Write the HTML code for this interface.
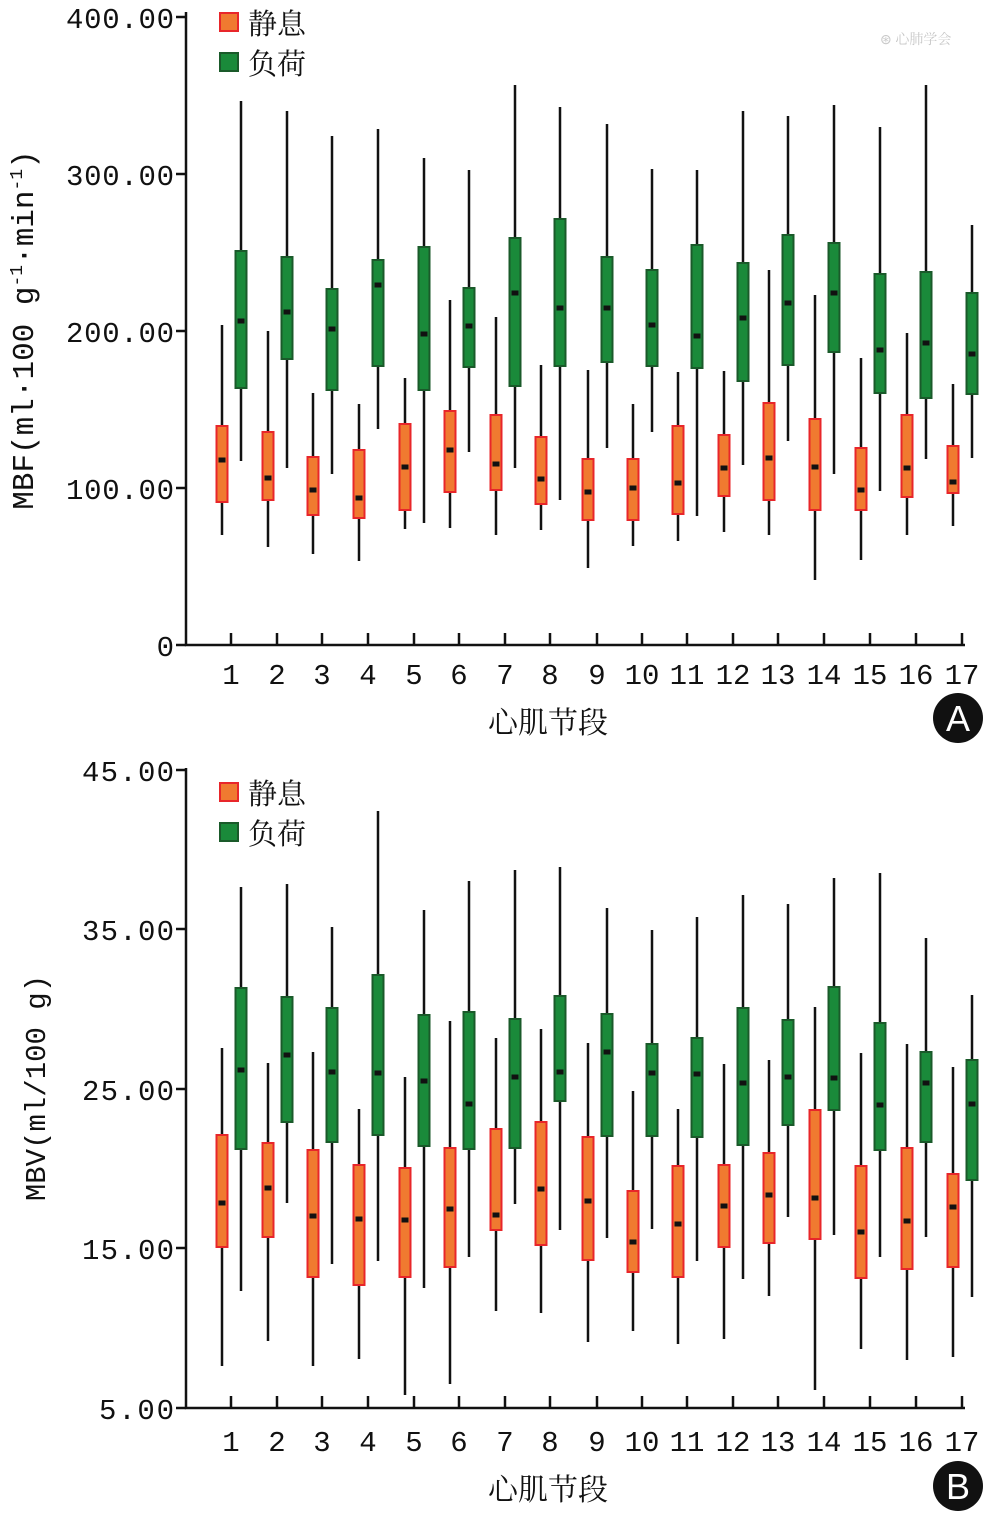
<!DOCTYPE html>
<html><head><meta charset="utf-8"><style>
html,body{margin:0;padding:0;background:#fff;}
svg{display:block;}
text{font-family:"Liberation Mono","Noto Serif CJK SC",monospace;fill:#111;}
.cjk{font-family:"Noto Serif CJK SC","Noto Sans CJK SC",serif;}
</style></head><body>
<svg id="s" width="991" height="1515" viewBox="0 0 991 1515" xmlns="http://www.w3.org/2000/svg">
<g stroke="#111" stroke-width="2.5" fill="none">
<path d="M186 12 V645 H965"/>
<path d="M176 17H186M176 174H186M176 331H186M176 488H186M176 645H186"/>
<path d="M186 768 V1408 H965"/>
<path d="M176 770H186M176 929H186M176 1089H186M176 1248H186M176 1408H186"/>
</g>
<g font-size="29" text-anchor="end">
<text x="174" y="28" textLength="108">400.00</text>
<text x="174" y="185" textLength="108">300.00</text>
<text x="174" y="342" textLength="108">200.00</text>
<text x="174" y="499" textLength="108">100.00</text>
<text x="174" y="656">0</text>
<text x="174" y="781" textLength="92">45.00</text>
<text x="174" y="940" textLength="92">35.00</text>
<text x="174" y="1100" textLength="92">25.00</text>
<text x="174" y="1259" textLength="92">15.00</text>
<text x="174" y="1419" textLength="75">5.00</text>
</g>
<text class="cjk" x="548" y="733" font-size="30" text-anchor="middle">心肌节段</text>
<text class="cjk" x="548" y="1500" font-size="30" text-anchor="middle">心肌节段</text>
<text x="0" y="0" font-size="31" text-anchor="middle" transform="translate(33 330) rotate(-90)">MBF(ml·100 g<tspan font-size="18" dy="-11">-1</tspan><tspan dy="11">·min</tspan><tspan font-size="18" dy="-11">-1</tspan><tspan dy="11">)</tspan></text>
<text x="0" y="0" font-size="29" text-anchor="middle" transform="translate(45 1088) rotate(-90)">MBV(ml/100 g)</text>
<g>
<rect x="220" y="13" width="18" height="18" fill="#f07a30" stroke="#e8262a" stroke-width="2"/>
<rect x="220" y="53" width="18" height="18" fill="#1a8a3a" stroke="#1a5a2a" stroke-width="2"/>
<text class="cjk" x="248" y="34" font-size="29">静息</text>
<text class="cjk" x="248" y="74" font-size="29">负荷</text>
<rect x="220" y="783" width="18" height="18" fill="#f07a30" stroke="#e8262a" stroke-width="2"/>
<rect x="220" y="823" width="18" height="18" fill="#1a8a3a" stroke="#1a5a2a" stroke-width="2"/>
<text class="cjk" x="248" y="804" font-size="29">静息</text>
<text class="cjk" x="248" y="844" font-size="29">负荷</text>
</g>
<text class="cjk" x="880" y="44" font-size="14" style="fill:#c8c8c8">⊛ 心肺学会</text>
<circle cx="958" cy="718" r="25" fill="#111"/>
<text x="958" y="731" font-size="36" text-anchor="middle" style="fill:#fff;font-family:'Liberation Sans',sans-serif">A</text>
<circle cx="958" cy="1486" r="25" fill="#111"/>
<text x="958" y="1499" font-size="36" text-anchor="middle" style="fill:#fff;font-family:'Liberation Sans',sans-serif">B</text>
<g font-size="29" text-anchor="middle">
<text x="231" y="684">1</text><text x="277" y="684">2</text><text x="322" y="684">3</text><text x="368" y="684">4</text><text x="414" y="684">5</text><text x="459" y="684">6</text><text x="505" y="684">7</text><text x="550" y="684">8</text><text x="597" y="684">9</text><text x="642" y="684">10</text><text x="687" y="684">11</text><text x="733" y="684">12</text><text x="778" y="684">13</text><text x="824" y="684">14</text><text x="870" y="684">15</text><text x="916" y="684">16</text><text x="962" y="684">17</text>
<text x="231" y="1451">1</text><text x="277" y="1451">2</text><text x="322" y="1451">3</text><text x="368" y="1451">4</text><text x="414" y="1451">5</text><text x="459" y="1451">6</text><text x="505" y="1451">7</text><text x="550" y="1451">8</text><text x="597" y="1451">9</text><text x="642" y="1451">10</text><text x="687" y="1451">11</text><text x="733" y="1451">12</text><text x="778" y="1451">13</text><text x="824" y="1451">14</text><text x="870" y="1451">15</text><text x="916" y="1451">16</text><text x="962" y="1451">17</text>
</g>
<g id="bx"></g>
</svg>
<script>
var xs=[231,277,322,368,414,459,505,550,597,642,687,733,778,824,870,916,962];
var A=[[325,535,426,502,460,101,461,251,388,321],[331,547,432,500,478,111,468,257,359,312],[393,554,457,515,490,136,474,289,390,329],[404,561,450,518,498,129,429,260,366,285],[378,529,424,510,467,158,523,247,390,334],[300,528,411,492,450,170,452,288,367,326],[317,535,415,490,464,85,468,238,386,293],[365,530,437,504,479,107,500,219,366,308],[370,568,459,520,492,124,448,257,362,308],[404,546,459,520,488,169,432,270,366,325],[372,541,426,514,483,170,516,245,368,336],[371,532,435,496,468,111,465,263,381,318],[270,535,403,500,458,116,441,235,365,303],[295,580,419,510,467,105,474,243,352,293],[358,560,448,510,490,127,491,274,393,350],[333,535,415,497,468,85,459,272,398,343],[384,526,446,493,482,225,458,293,394,354]];
var B=[[1048,1366,1135,1247,1203,887,1291,988,1149,1070],[1063,1341,1143,1237,1188,884,1203,997,1122,1055],[1052,1366,1150,1277,1216,927,1264,1008,1142,1072],[1109,1359,1165,1285,1219,811,1261,975,1135,1073],[1077,1395,1168,1277,1220,910,1288,1015,1146,1081],[1021,1384,1148,1267,1209,881,1257,1012,1149,1104],[1038,1311,1129,1230,1215,870,1204,1019,1148,1077],[1029,1313,1122,1245,1189,867,1230,996,1101,1072],[1043,1342,1137,1260,1201,908,1238,1014,1136,1052],[1091,1331,1191,1272,1242,930,1229,1044,1136,1073],[1109,1344,1166,1277,1224,917,1261,1038,1137,1074],[1064,1339,1165,1247,1206,895,1279,1008,1145,1083],[1060,1296,1153,1243,1195,904,1217,1020,1125,1077],[1007,1390,1110,1239,1198,878,1235,987,1110,1078],[1053,1349,1166,1278,1232,873,1257,1023,1150,1105],[1044,1360,1148,1269,1221,938,1237,1052,1142,1083],[1067,1357,1174,1267,1207,995,1297,1060,1180,1104]];
var h='';
function box(cx,d,o,fill,st){
 h+='<line x1="'+cx+'" x2="'+cx+'" y1="'+d[o]+'" y2="'+d[o+1]+'" stroke="#111" stroke-width="2.5"/>';
 h+='<rect x="'+(cx-5.5)+'" y="'+d[o+2]+'" width="11" height="'+(d[o+3]-d[o+2])+'" fill="'+fill+'" stroke="'+st+'" stroke-width="2"/>';
 h+='<rect x="'+(cx-3.5)+'" y="'+(d[o+4]-2.5)+'" width="7" height="5" fill="#111"/>';
}
for(var i=0;i<17;i++){
 var x=xs[i];
 h+='<line x1="'+x+'" x2="'+x+'" y1="633" y2="645" stroke="#111" stroke-width="2.5"/>';
 h+='<line x1="'+x+'" x2="'+x+'" y1="1396" y2="1408" stroke="#111" stroke-width="2.5"/>';
 box(x-9,A[i],0,'#f07a30','#e8262a');box(x+10,A[i],5,'#1a8a3a','#1a5a2a');
 box(x-9,B[i],0,'#f07a30','#e8262a');box(x+10,B[i],5,'#1a8a3a','#1a5a2a');
}
document.getElementById('bx').innerHTML=h;
</script>
</body></html>
